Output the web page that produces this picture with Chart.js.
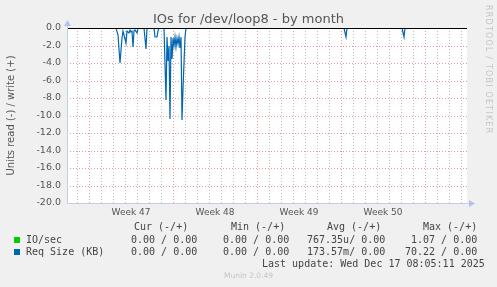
<!DOCTYPE html>
<html>
<head>
<meta charset="utf-8">
<script src="https://cdn.jsdelivr.net/npm/chart.js@4"></script>
<style>
  body { margin: 0; background: #f0f0f0; }
  #wrap { position: relative; width: 497px; height: 287px; overflow: hidden; }
  canvas { position: absolute; left: 0; top: 0; }
  .t { position: absolute; white-space: pre; color: #444; }
  .mono { font: 10px "DejaVu Sans Mono", monospace; line-height: 12px; }
  .title { font: 13px "DejaVu Sans", sans-serif; color: #555; left: 0; width: 497px; text-align: center; top: 11px; }
  .side { font: 8px "DejaVu Sans", sans-serif; color: #c4c4c4; left: 484px; top: 5px; writing-mode: vertical-rl; letter-spacing: 1.2px; }
  .box { position: absolute; width: 6px; height: 6px; }
</style>
</head>
<body>
<div id="wrap">
  <canvas id="chart" width="497" height="287"></canvas>
  <div class="t title">IOs for /dev/loop8 - by month</div>
  <div class="t side">RRDTOOL / TOBI OETIKER</div>

  <div class="t mono" style="left:134px;top:221px">Cur (-/+)</div>
  <div class="t mono" style="left:231px;top:221px">Min (-/+)</div>
  <div class="t mono" style="left:327px;top:221px">Avg (-/+)</div>
  <div class="t mono" style="left:423px;top:221px">Max (-/+)</div>

  <div class="box" style="left:14px;top:237px;background:#00cc00"></div>
  <div class="t mono" style="left:26px;top:234px">IO/sec</div>
  <div class="t mono" style="left:131px;top:234px">0.00 / 0.00</div>
  <div class="t mono" style="left:223px;top:234px">0.00 / 0.00</div>
  <div class="t mono" style="left:307px;top:234px">767.35u/ 0.00</div>
  <div class="t mono" style="left:411px;top:234px">1.07 / 0.00</div>

  <div class="box" style="left:14px;top:249px;background:#0066b3"></div>
  <div class="t mono" style="left:26px;top:246px">Req Size (KB)</div>
  <div class="t mono" style="left:131px;top:246px">0.00 / 0.00</div>
  <div class="t mono" style="left:223px;top:246px">0.00 / 0.00</div>
  <div class="t mono" style="left:307px;top:246px">173.57m/ 0.00</div>
  <div class="t mono" style="left:405px;top:246px">70.22 / 0.00</div>

  <div class="t mono" style="left:262px;top:258px">Last update: Wed Dec 17 08:05:11 2025</div>
  <div class="t" style="left:224px;top:271px;font:7.5px 'DejaVu Sans',sans-serif;color:#c4c4c4">Munin 2.0.49</div>
</div>
<script>
// hours since Mon Nov 17 00:00 (start of week 47)
const xMin = -44;
const xMax = 756;
const weekLabels = ['Week 47', 'Week 48', 'Week 49', 'Week 50'];

// Req Size (KB), read side (negative)
const reqHours = [54, 58, 62, 66, 68, 70, 74, 76, 80, 82, 84, 86, 88, 90, 92, 96, 98,
  110, 114, 116, 130, 132, 136, 138, 140, 150, 154, 156, 158, 160, 162, 164, 166, 168,
  170, 172, 174, 176, 178, 180, 182, 184, 186, 188, 190, 192, 194,
  510, 514, 516, 626, 630, 632, 728];
const reqValues = [0, -0.8, -4.0, -1.2, -0.4, -0.8, -1.7, -0.3, -0.6, -0.2, -0.5, -0.3, -2.2, -0.3, -0.2, -0.6, 0,
  0, -2.4, 0, 0, -1.0, -1.0, -0.3, 0, 0, -8.2, -1.0, -3.8, -2.0, -10.4, -1.0, -3.5, -1.2,
  -2.0, -1.0, -2.2, -1.2, -1.8, -1.0, -2.3, -1.0, -10.5, -7.0, -4.0, -1.0, 0,
  0, -1.0, 0, 0, -1.0, 0, 0];

// IO/sec, read side
const ioHours = [54, 186, 188, 190, 728];
const ioValues = [0, 0, -0.1, 0, 0];

const pts = (xs, ys) => xs.map((x, i) => ({ x, y: ys[i] }));

const majorGrid = 'rgba(225,150,150,0.95)';
const minorGrid = '#bdbdbd';

const frame = {
  id: 'frame',
  beforeDraw(chart) {
    const { ctx, chartArea: a } = chart;
    ctx.save();
    ctx.fillStyle = '#f0f0f0';
    ctx.fillRect(0, 0, chart.width, chart.height);
    ctx.fillStyle = '#fff';
    ctx.fillRect(a.left, a.top, a.right - a.left, a.bottom - a.top);
    ctx.restore();
  },
  afterDatasetsDraw(chart) {
    const { ctx, chartArea: a } = chart;
    const y0 = Math.round(chart.scales.y.getPixelForValue(0)) + 0.5;
    ctx.save();
    ctx.strokeStyle = '#000';
    ctx.lineWidth = 1;
    ctx.beginPath();
    ctx.moveTo(a.left, y0);
    ctx.lineTo(a.right, y0);
    ctx.stroke();
    // axes with arrows
    ctx.strokeStyle = '#c8cce8';
    ctx.fillStyle = '#b8c0f0';
    ctx.beginPath();
    ctx.moveTo(a.left + 0.5, a.bottom);
    ctx.lineTo(a.left + 0.5, a.top - 4);
    ctx.moveTo(a.left, a.bottom + 0.5);
    ctx.lineTo(a.right + 3, a.bottom + 0.5);
    ctx.stroke();
    ctx.beginPath();
    ctx.moveTo(a.left - 3, a.top - 2);
    ctx.lineTo(a.left + 4, a.top - 2);
    ctx.lineTo(a.left + 0.5, a.top - 8);
    ctx.closePath();
    ctx.fill();
    ctx.beginPath();
    ctx.moveTo(a.right + 2, a.bottom - 3);
    ctx.lineTo(a.right + 2, a.bottom + 4);
    ctx.lineTo(a.right + 8, a.bottom + 0.5);
    ctx.closePath();
    ctx.fill();
    ctx.restore();
  }
};

new Chart(document.getElementById('chart'), {
  type: 'line',
  data: {
    datasets: [{
      label: 'IO/sec',
      data: pts(ioHours, ioValues),
      borderColor: '#00cc00',
      borderWidth: 1,
      pointRadius: 0,
      tension: 0,
    }, {
      label: 'Req Size (KB)',
      data: pts(reqHours, reqValues),
      borderColor: '#0066b3',
      borderWidth: 1.2,
      pointRadius: 0,
      tension: 0,
    }],
  },
  options: {
    responsive: false,
    animation: false,
    events: [],
    layout: { padding: { top: 28, right: 30, left: 0, bottom: 0 } },
    plugins: { legend: { display: false }, tooltip: { enabled: false } },
    scales: {
      x: {
        type: 'linear',
        min: xMin,
        max: xMax,
        alignToPixels: true,
        afterFit: s => { s.height = 84; },
        afterBuildTicks: s => {
          const t = [];
          for (let h = -24; h <= xMax; h += 24) t.push({ value: h });
          weekLabels.forEach((_, i) => t.push({ value: 84 + 168 * i }));
          s.ticks = t;
        },
        border: { display: false, dash: [1, 2] },
        grid: {
          drawTicks: false,
          lineWidth: 1,
          color: c => {
            const v = c.tick.value;
            if (v % 24 !== 0) return 'rgba(0,0,0,0)';
            return v % 168 === 0 ? majorGrid : minorGrid;
          },
        },
        ticks: {
          autoSkip: false,
          maxRotation: 0,
          padding: 4,
          color: '#555',
          font: { family: 'DejaVu Sans', size: 9 },
          callback: v => {
            const k = (v - 84) / 168;
            return Number.isInteger(k) && weekLabels[k] ? weekLabels[k] : '';
          },
        },
      },
      y: {
        min: -20,
        max: 0,
        alignToPixels: true,
        afterFit: s => { s.width = 67; },
        border: { display: false, dash: [1, 2] },
        grid: {
          drawTicks: false,
          lineWidth: 1,
          color: c => {
            const v = c.tick.value;
            if (v === 0) return 'rgba(0,0,0,0)';
            return v % 2 === 0 ? majorGrid : minorGrid;
          },
        },
        ticks: {
          stepSize: 1,
          padding: 6,
          color: '#555',
          font: { family: 'DejaVu Sans', size: 9.5 },
          callback: v => (v % 2 === 0 ? v.toFixed(1) : ''),
        },
        title: {
          display: true,
          text: 'Units read (-) / write (+)',
          color: '#555',
          font: { family: 'DejaVu Sans', size: 10 },
          padding: { top: 5, bottom: 2 },
        },
      },
    },
  },
  plugins: [frame],
});
</script>
</body>
</html>
